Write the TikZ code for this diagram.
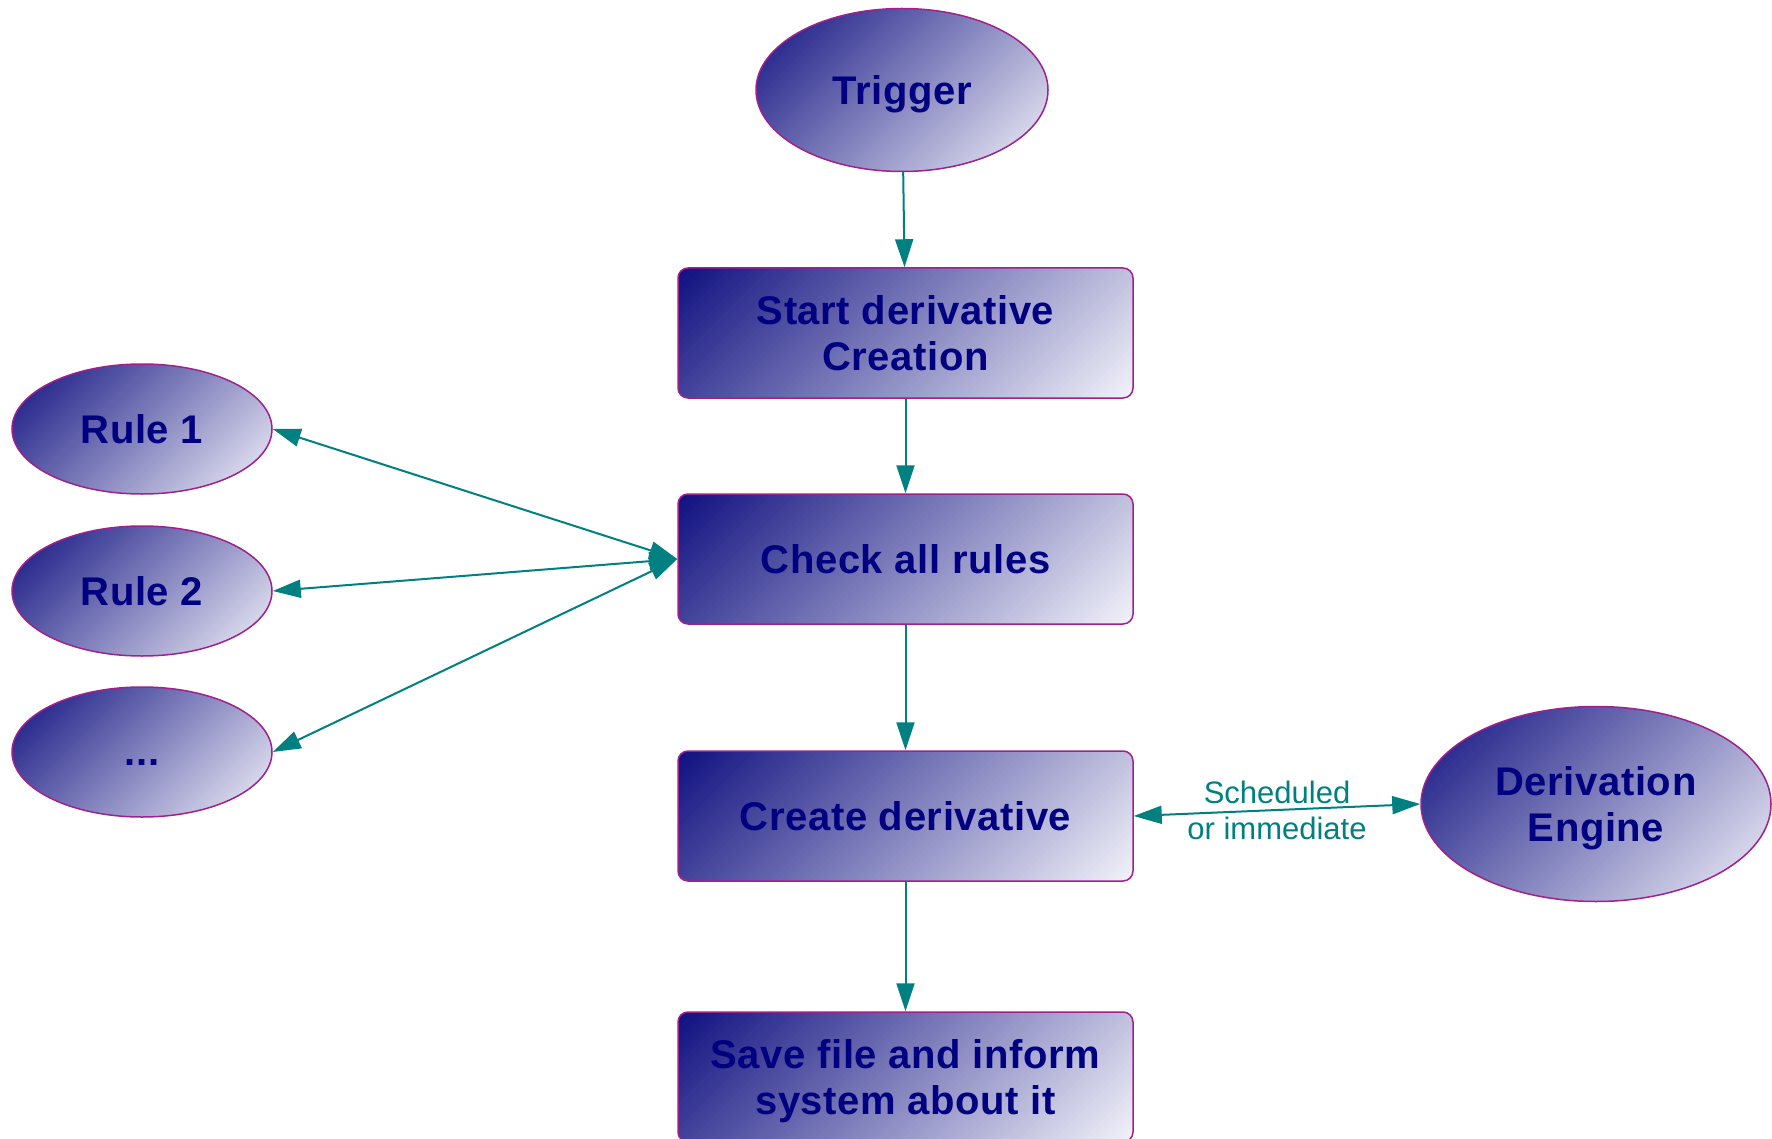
\documentclass[tikz,border=0pt]{standalone}
\usepackage{fontspec}
\setmainfont{Liberation Sans}
\newfontfamily\nodefont[LetterSpace=1.5]{Liberation Sans}
\usetikzlibrary{shapes.geometric,arrows.meta}
\definecolor{navytext}{RGB}{0,0,128}
\definecolor{gdark}{RGB}{16,16,128}
\definecolor{glight}{RGB}{242,242,250}
\definecolor{nodeborder}{RGB}{160,32,140}
\definecolor{tealline}{RGB}{0,128,128}
% diagonal gradient strips: #1 cx, #2 cy, #3 half range (w+h)/2, #4 half length of strips
\newcommand\diagfill[4]{%
  \foreach \i in {0,...,99}{%
    \pgfmathsetmacro\ua{-#3+0.02*#3*\i}%
    \pgfmathsetmacro\ub{\ua+0.02*#3+0.8}%
    \pgfmathsetmacro\pmix{\i*100/99}%
    \fill[glight!\pmix!gdark] ({#1+\ua/2-#4},{#2+\ua/2+#4}) -- ({#1+\ub/2-#4},{#2+\ub/2+#4}) -- ({#1+\ub/2+#4},{#2+\ub/2-#4}) -- ({#1+\ua/2+#4},{#2+\ua/2-#4}) -- cycle;
  }}
\begin{document}
\begin{tikzpicture}[x=0.5pt,y=-0.5pt,
  grad/.style={draw=nodeborder, line width=0.75pt, text=navytext, font=\nodefont\fontsize{20}{23}\selectfont\bfseries, align=center, text depth=0pt},
  procbox/.style={grad, rectangle, rounded corners=5pt, minimum width=227.5pt, minimum height=65pt, inner sep=0pt},
  oval/.style={grad, ellipse, inner sep=0pt},
  conn/.style={draw=tealline, line width=1pt, -{Triangle[length=14pt,width=9pt]}},
  bconn/.style={draw=tealline, line width=1pt, {Triangle[length=14pt,width=9pt]}-{Triangle[length=14pt,width=9pt]}},
  lbl/.style={text=tealline, font=\fontsize{15.5}{18}\selectfont, align=center, inner sep=0pt}
]
\useasboundingbox (0,0) rectangle (1772,1139);
% gradient fills
\begin{scope}\clip (902,90) ellipse [x radius=146, y radius=81.5]; \diagfill{902}{90}{227.5}{130}\end{scope}
\begin{scope}\clip[rounded corners=5pt] (678,268) rectangle (1133,398); \diagfill{905.5}{333}{292.5}{160}\end{scope}
\begin{scope}\clip[rounded corners=5pt] (678,494) rectangle (1133,624); \diagfill{905.5}{559}{292.5}{160}\end{scope}
\begin{scope}\clip[rounded corners=5pt] (678,751) rectangle (1133,881); \diagfill{905.5}{816}{292.5}{160}\end{scope}
\begin{scope}\clip[rounded corners=5pt] (678,1012) rectangle (1133,1142); \diagfill{905.5}{1077}{292.5}{160}\end{scope}
\begin{scope}\clip (142,429) ellipse [x radius=130, y radius=65]; \diagfill{142}{429}{195}{110}\end{scope}
\begin{scope}\clip (142,591) ellipse [x radius=130, y radius=65]; \diagfill{142}{591}{195}{110}\end{scope}
\begin{scope}\clip (142,752) ellipse [x radius=130, y radius=65]; \diagfill{142}{752}{195}{110}\end{scope}
\begin{scope}\clip (1596,804) ellipse [x radius=175, y radius=97.5]; \diagfill{1596}{804}{272.5}{150}\end{scope}

\node[oval, minimum width=146pt, minimum height=81.5pt] (trig) at (902,90) {Trigger};
\node[procbox] (start) at (905.5,333) {Start derivative\\Creation};
\node[procbox] (check) at (905.5,559) {Check all rules};
\node[procbox] (create) at (905.5,816) {Create derivative};
\node[procbox] (save) at (905.5,1077) {Save file and inform\\system about it};
\node[oval, minimum width=130pt, minimum height=65pt] (rule1) at (142,429) {Rule 1};
\node[oval, minimum width=130pt, minimum height=65pt] (rule2) at (142,591) {Rule 2};
\node[oval, minimum width=130pt, minimum height=65pt] (dots) at (142,752) {\vphantom{R}...};
\node[oval, minimum width=175pt, minimum height=97.5pt] (engine) at (1596,804) {Derivation\\Engine};

\draw[conn] (trig) -- (start);
\draw[conn] (start) -- (check);
\draw[conn] (check) -- (create);
\draw[conn] (create) -- (save);
\draw[bconn] (check.west) -- (rule1.east);
\draw[bconn] (check.west) -- (rule2.east);
\draw[bconn] (check.west) -- (dots.east);
\draw[bconn] (create.east) -- node[lbl] {Scheduled\\or immediate} (engine.west);
\end{tikzpicture}
\end{document}
